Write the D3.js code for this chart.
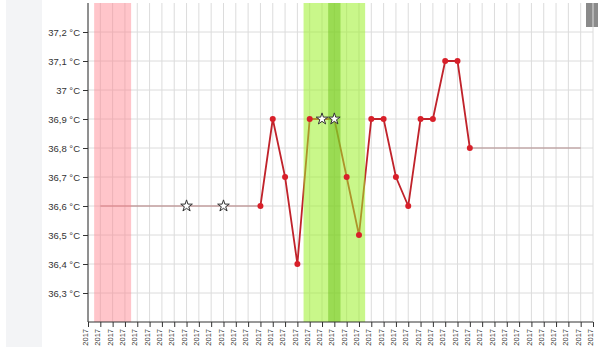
<!DOCTYPE html>
<html lang="en">
<head>
  <meta charset="UTF-8">
  <title>Temperature chart</title>
  <script src="https://d3js.org/d3.v7.min.js"></script>
  <style>
    body { margin: 0; background: white; font-family: Roboto, sans-serif; }
    svg { display: block; }
    .grid line { stroke: #dcdcdc; stroke-width: 1; }
    .axis path, .axis line { stroke: #333; }
    .axis text { fill: #333; }
  </style>
</head>
<body>
  <svg id="chart"></svg>
  <script>
    const width = 600;
    const height = 347;
    const margin = { top: 3, right: 7, bottom: 25, left: 88 };

    // one category per day of the cycle, all shown as the year
    const days = d3.timeDay.range(new Date(2017, 2, 1), new Date(2017, 3, 12));
    const tempDays = [14, 15, 16, 17, 18, 19, 20, 21, 22, 23, 24, 25, 26, 27, 28, 29, 30, 31];
    const temps = [36.6, 36.9, 36.7, 36.4, 36.9, 36.9, 36.9, 36.7, 36.5, 36.9, 36.9, 36.7, 36.6, 36.9, 36.9, 37.1, 37.1, 36.8];
    const starDays = [8, 11, 19, 20];
    const starTemps = [36.6, 36.6, 36.9, 36.9];
    const guideStart = 1;
    const guideEnd = 40;
    const redBand = [1, 3];
    const greenBand = [18, 22];
    const peakBand = [20, 20];
    const yTicks = [36.3, 36.4, 36.5, 36.6, 36.7, 36.8, 36.9, 37.0, 37.1, 37.2];

    const svg = d3.select("#chart").attr("width", width).attr("height", height);

    // left side panel and scroll thumb
    svg.append("rect").attr("x", 6).attr("y", 0).attr("width", 36).attr("height", height).attr("fill", "#f3f4f6");
    svg.append("rect").attr("x", 586).attr("y", 3).attr("width", 12).attr("height", 24).attr("fill", "#8a8a8a");

    const chartW = width - margin.left - margin.right;
    const chartH = height - margin.top - margin.bottom;
    const g = svg.append("g").attr("transform", `translate(${margin.left},${margin.top})`);

    const x = d3.scalePoint().domain(d3.range(days.length)).range([0, chartW]);
    const y = d3.scaleLinear().domain([36.2, 37.3]).range([chartH, 0]);
    const step = x.step();

    // grid
    g.append("g").attr("class", "grid").selectAll("line").data(x.domain()).join("line")
      .attr("x1", d => x(d)).attr("x2", d => x(d)).attr("y1", 0).attr("y2", chartH);
    g.append("g").attr("class", "grid").selectAll("line").data(yTicks).join("line")
      .attr("x1", 0).attr("x2", chartW).attr("y1", d => y(d)).attr("y2", d => y(d));

    // guide lines before and after the measured values
    const first = tempDays[0], last = tempDays[tempDays.length - 1];
    g.append("line").attr("x1", x(guideStart)).attr("x2", x(first))
      .attr("y1", y(temps[0])).attr("y2", y(temps[0]))
      .attr("stroke", "#b07a7a").attr("stroke-width", 1);
    g.append("line").attr("x1", x(last)).attr("x2", x(guideEnd))
      .attr("y1", y(temps[temps.length - 1])).attr("y2", y(temps[temps.length - 1]))
      .attr("stroke", "#b08a8a").attr("stroke-width", 1);

    // temperature line
    const pts = tempDays.map((d, i) => ({ day: d, t: temps[i] }));
    g.append("path").datum(pts)
      .attr("fill", "none").attr("stroke", "#c0232b").attr("stroke-width", 1.8)
      .attr("d", d3.line().x(d => x(d.day)).y(d => y(d.t)));

    // bands
    function band(r, color, op) {
      g.append("rect")
        .attr("x", x(r[0]) - step / 2).attr("y", 0)
        .attr("width", x(r[1]) - x(r[0]) + step).attr("height", chartH)
        .attr("fill", color).attr("opacity", op);
    }
    band(redBand, "#ff7f8a", 0.45);
    band(greenBand, "#9cf02a", 0.55);
    band(peakBand, "#6cbf1c", 0.5);

    // dots
    g.selectAll(".dot").data(pts.filter(d => !starDays.includes(d.day))).join("circle")
      .attr("class", "dot")
      .attr("cx", d => x(d.day)).attr("cy", d => y(d.t)).attr("r", 3)
      .attr("fill", "#d8202a");

    // stars
    const star = d3.symbol().type(d3.symbolStar).size(42);
    g.selectAll(".star").data(starDays.map((d, i) => ({ day: d, t: starTemps[i] }))).join("path")
      .attr("class", "star")
      .attr("transform", d => `translate(${x(d.day)},${y(d.t)})`)
      .attr("d", star)
      .attr("fill", "white").attr("stroke", "#333").attr("stroke-width", 1);

    // axes
    g.append("g").attr("class", "axis")
      .call(d3.axisLeft(y).tickValues(yTicks).tickSize(5).tickPadding(3)
        .tickFormat(d => d3.format(".1f")(d).replace(".", ",").replace(",0", "") + " °C"))
      .call(a => a.select(".domain").attr("d", `M0,0V${chartH}`))
      .selectAll("text").style("font-size", "9.5px");

    const fmt = d3.timeFormat("%Y");
    g.append("g").attr("class", "axis")
      .attr("transform", `translate(0,${chartH})`)
      .call(d3.axisBottom(x).tickSize(5).tickFormat(i => fmt(days[i])))
      .call(a => a.select(".domain").attr("d", `M0,0H${chartW}`))
      .selectAll("text")
      .style("font-size", "7.5px")
      .attr("text-anchor", "end")
      .attr("transform", "rotate(-90)")
      .attr("x", -7).attr("y", -3).attr("dy", "0.35em");
  </script>
</body>
</html>
